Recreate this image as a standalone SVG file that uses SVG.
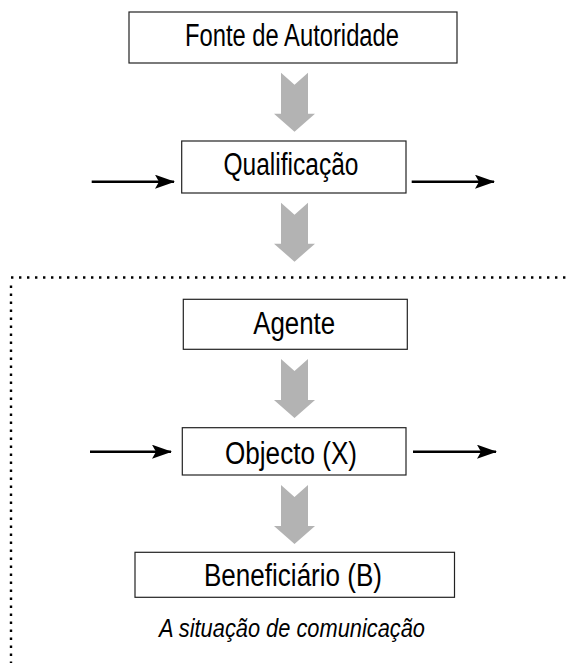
<svg xmlns="http://www.w3.org/2000/svg" width="567" height="663" viewBox="0 0 567 663">
<style>
.box{fill:#fff;stroke:#222;stroke-width:1.2}
.lbl{font-family:"Liberation Sans",Arial,sans-serif;font-size:31px;fill:#000;text-anchor:middle}
.cap{font-family:"Liberation Sans",Arial,sans-serif;font-size:25px;font-style:italic;fill:#000;text-anchor:middle}
.gray{fill:#b3b3b3}
.flow{stroke:#000;stroke-width:2.5;fill:none;marker-end:url(#ah)}
.dots{stroke:#000;stroke-width:2.4;fill:none;stroke-dasharray:2.4 5.6}
</style>
<defs>
<marker id="ah" markerWidth="20" markerHeight="14" refX="19" refY="7" orient="auto" markerUnits="userSpaceOnUse">
<path d="M0,0 L20,7 L0,14 L4,7 Z" fill="#000"/>
</marker>
<path id="garrow" d="M-13.5,0 L0,12 L13.5,0 L13.5,41 L20.5,41 L0,59 L-20.5,41 L-13.5,41 Z"/>
</defs>
<g id="region">
<path class="dots" d="M11,277.5 H567"/>
<path class="dots" d="M11,285.5 V663"/>
</g>
<g id="connectors">
<use href="#garrow" class="gray" x="294.5" y="72.7"/>
<use href="#garrow" class="gray" x="294.5" y="202.7"/>
<use href="#garrow" class="gray" x="294.5" y="359"/>
<use href="#garrow" class="gray" x="294.5" y="485"/>
<path class="flow" d="M91.7,181.7 H174"/>
<path class="flow" d="M411.7,181.7 H494"/>
<path class="flow" d="M90,451.7 H171"/>
<path class="flow" d="M413,451.7 H496"/>
</g>
<g id="fonte">
<rect class="box" x="129" y="12" width="328" height="51"/>
<text class="lbl" x="292" y="46" textLength="214" lengthAdjust="spacingAndGlyphs">Fonte de Autoridade</text>
</g>
<g id="qualificacao">
<rect class="box" x="181.7" y="141" width="224.3" height="52"/>
<text class="lbl" x="291" y="175" textLength="135" lengthAdjust="spacingAndGlyphs">Qualificação</text>
</g>
<g id="agente">
<rect class="box" x="183.3" y="299.3" width="224" height="50"/>
<text class="lbl" x="294.2" y="334" textLength="82" lengthAdjust="spacingAndGlyphs">Agente</text>
</g>
<g id="objecto">
<rect class="box" x="182.3" y="427.7" width="223.7" height="47.3"/>
<text class="lbl" x="291" y="464" textLength="132" lengthAdjust="spacingAndGlyphs">Objecto (X)</text>
</g>
<g id="beneficiario">
<rect class="box" x="135" y="552.3" width="319.5" height="45"/>
<text class="lbl" x="293" y="586" textLength="178" lengthAdjust="spacingAndGlyphs">Beneficiário (B)</text>
</g>
<g id="caption">
<text class="cap" x="292" y="637" textLength="266" lengthAdjust="spacingAndGlyphs">A situação de comunicação</text>
</g>
</svg>
